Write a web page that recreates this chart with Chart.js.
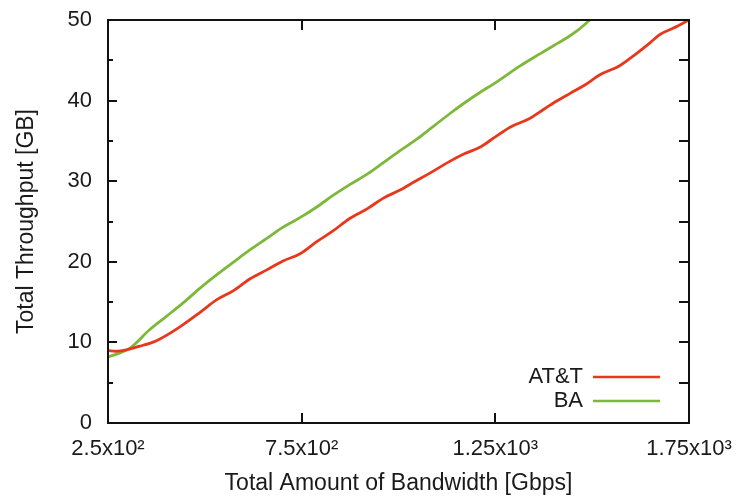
<!DOCTYPE html>
<html><head><meta charset="utf-8">
<script src="https://cdn.jsdelivr.net/npm/chart.js@4.4.0/dist/chart.umd.min.js"></script>
<style>html,body{margin:0;padding:0;background:#fff;}#wrap{width:741px;height:499px;}</style>
</head><body><div id="wrap"><canvas id="c" width="741" height="499"></canvas></div>
<script>
// ---- data ----
const seriesNames = ['AT&T', 'BA'];
const attBandwidth = [250,270,300,330,370,402,444,487,531,573,617,660,702,746,789,830,875,920,961,1004,1040,1081,1130,1170,1210,1250,1288,1340,1365,1400,1443,1480,1520,1570,1616,1650,1675,1710,1750];
const attThroughput = [9.0,8.9,9.1,9.5,10.1,10.9,12.2,13.7,15.3,16.4,17.9,19.0,20.1,21.0,22.5,23.8,25.4,26.6,27.9,28.9,29.9,31.0,32.4,33.4,34.2,35.5,36.7,37.8,38.6,39.7,40.9,41.9,43.2,44.3,45.9,47.2,48.2,49.0,50.0];
const baBandwidth = [250,281,307,358,400,444,487,531,575,617,660,702,750,789,830,875,920,961,1004,1050,1090,1133,1170,1210,1250,1314,1365,1400,1435,1465,1494];
const baThroughput = [8.2,8.7,9.3,11.6,13.2,14.9,16.7,18.4,20.0,21.5,22.9,24.3,25.6,26.8,28.2,29.6,30.9,32.3,33.8,35.3,36.8,38.4,39.7,41.0,42.2,44.3,45.8,46.8,47.8,48.8,50.0];
const xTickValues = [250, 750, 1250, 1750];
const xTickLabels = ['2.5x10\u00B2', '7.5x10\u00B2', '1.25x10\u00B3', '1.75x10\u00B3'];
const yTickValues = [0, 10, 20, 30, 40, 50];
const yMinorTickValues = [5, 15, 25, 35, 45];
const xTitle = 'Total Amount of Bandwidth [Gbps]';
const yTitle = 'Total Throughput [GB]';
const seriesColors = ['#e8381c', '#7db83a'];

const FONT = "'Liberation Sans', Arial, sans-serif";
const TXT = '#1a1a1a';

function pairs(xs, ys) { return xs.map((x, i) => ({ x: x, y: ys[i] })); }

const framePlugin = {
  id: 'frameTicks',
  afterDatasetsDraw(chart) {
    const { ctx, chartArea: a, scales } = chart;
    const xs = scales.x, ys = scales.y;
    ctx.save();
    ctx.strokeStyle = '#111';
    ctx.lineWidth = 2;
    ctx.beginPath();
    yTickValues.concat(yMinorTickValues).forEach(v => {
      const py = Math.round(ys.getPixelForValue(v));
      const major = yTickValues.includes(v);
      ctx.moveTo(a.left, py); ctx.lineTo(a.left + (major ? 9 : 5), py);
      ctx.moveTo(a.right, py); ctx.lineTo(a.right - 10, py);
    });
    xTickValues.forEach(v => {
      const px = Math.round(xs.getPixelForValue(v));
      ctx.moveTo(px, a.bottom); ctx.lineTo(px, a.bottom - 10);
      ctx.moveTo(px, a.top); ctx.lineTo(px, a.top + 10);
    });
    ctx.stroke();
    ctx.strokeRect(a.left, a.top, a.right - a.left, a.bottom - a.top);
    ctx.font = '22px ' + FONT;
    ctx.textAlign = 'right';
    ctx.textBaseline = 'middle';
    chart.data.datasets.forEach((ds, i) => {
      const y = a.bottom - 46 + i * 24;
      ctx.fillStyle = TXT;
      ctx.fillText(ds.label, a.right - 106, y);
      ctx.strokeStyle = ds.borderColor;
      ctx.lineWidth = 2.5;
      ctx.beginPath();
      ctx.moveTo(a.right - 96, y); ctx.lineTo(a.right - 29, y);
      ctx.stroke();
    });
    ctx.restore();
  }
};

new Chart(document.getElementById('c'), {
  type: 'line',
  data: {
    datasets: [
      { label: seriesNames[0], data: pairs(attBandwidth, attThroughput), borderColor: seriesColors[0], borderWidth: 2.8, pointRadius: 0, cubicInterpolationMode: 'monotone', fill: false },
      { label: seriesNames[1], data: pairs(baBandwidth, baThroughput), borderColor: seriesColors[1], borderWidth: 2.8, pointRadius: 0, cubicInterpolationMode: 'monotone', fill: false }
    ]
  },
  options: {
    responsive: false,
    animation: false,
    devicePixelRatio: 1,
    layout: { padding: { left: 0, top: 20, right: 52, bottom: 0 } },
    plugins: { legend: { display: false }, tooltip: { enabled: false } },
    scales: {
      x: {
        type: 'linear', min: 250, max: 1750,
        afterBuildTicks: s => { s.ticks = xTickValues.map(v => ({ value: v })); },
        afterFit: s => { s.height = 76; s.paddingLeft = 0; s.paddingRight = 0; },
        grid: { display: false, drawTicks: false },
        border: { display: false },
        ticks: {
          padding: 13, color: TXT, font: { family: FONT, size: 22 }, maxRotation: 0, autoSkip: false,
          callback: v => { const i = xTickValues.indexOf(v); return i >= 0 ? xTickLabels[i] : ''; }
        },
        title: { display: true, text: xTitle, color: TXT, font: { family: FONT, size: 23 }, padding: { top: 0, bottom: 2 } }
      },
      y: {
        type: 'linear', min: 0, max: 50,
        afterBuildTicks: s => { s.ticks = yTickValues.map(v => ({ value: v })); },
        afterFit: s => { s.width = 108; s.paddingTop = 0; s.paddingBottom = 0; },
        grid: { display: false, drawTicks: false },
        border: { display: false },
        ticks: { padding: 16, color: TXT, font: { family: FONT, size: 22 } },
        title: { display: true, text: yTitle, color: TXT, font: { family: FONT, size: 23 }, padding: { top: 13, bottom: 0 } }
      }
    }
  },
  plugins: [framePlugin]
});
</script>
</body></html>
